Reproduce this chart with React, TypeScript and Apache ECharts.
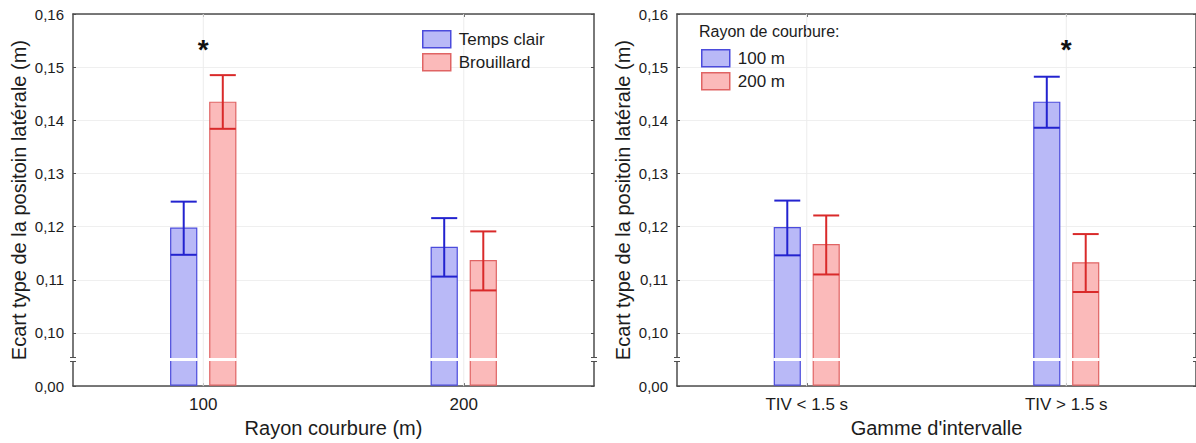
import React, { useEffect, useRef } from "react";
import * as echarts from "echarts";

// ---------- data ----------
const leftCategories = ["100", "200"];
const rightCategories = ["TIV < 1.5 s", "TIV > 1.5 s"];

// left panel: Rayon courbure
const clearMean = [0.1197, 0.1161];
const clearLow = [0.1147, 0.1106];
const clearHigh = [0.1247, 0.1216];
const fogMean = [0.1434, 0.1136];
const fogLow = [0.1384, 0.108];
const fogHigh = [0.1485, 0.1191];

// right panel: Gamme d'intervalle
const r100Mean = [0.1198, 0.1434];
const r100Low = [0.1146, 0.1386];
const r100High = [0.1249, 0.1482];
const r200Mean = [0.1166, 0.1132];
const r200Low = [0.111, 0.1077];
const r200High = [0.1221, 0.1186];

// significance marks (category index)
const leftStars = [0];
const rightStars = [1];
const STAR_VALUE = 0.1533;

// y axis ticks: the lowest tick stands for 0,00 (axis break)
const yTickValues = [0.09, 0.1, 0.11, 0.12, 0.13, 0.14, 0.15, 0.16];
const yTickLabels = ["0,00", "0,10", "0,11", "0,12", "0,13", "0,14", "0,15", "0,16"];
const BREAK_VALUE = 0.095;

// ---------- styles ----------
const FONT = "Liberation Sans, Arial, sans-serif";
const BLUE_FILL = "#b9b9f7";
const BLUE_BORDER = "#4b4bdc";
const BLUE_ERR = "#2323cf";
const RED_FILL = "#fbbaba";
const RED_BORDER = "#e06464";
const RED_ERR = "#d92a2a";
const AXIS_COLOR = "#4d4d4d";
const TEXT_COLOR = "#1c1c1c";

function rows(mean: number[], low: number[], high: number[]) {
  return mean.map((m, i) => [i, m, low[i], high[i]]);
}

function makeRenderer(
  offsetFrac: number,
  fill: string,
  border: string,
  err: string,
  first: boolean,
  stars: number[]
) {
  return (params: any, api: any) => {
    const cat = api.value(0);
    const mean = api.value(1);
    const low = api.value(2);
    const high = api.value(3);
    const cs = params.coordSys;
    const band = api.size([1, 0])[0];
    const center = api.coord([cat, mean])[0];
    const xc = center + offsetFrac * band;
    const w = band * 0.1;
    const yTop = api.coord([cat, mean])[1];
    const yBase = cs.y + cs.height;
    const yBreak = api.coord([cat, BREAK_VALUE])[1];
    const yLow = api.coord([cat, low])[1];
    const yHigh = api.coord([cat, high])[1];
    const children: any[] = [];
    if (first) {
      children.push({
        type: "line",
        shape: { x1: center, y1: cs.y, x2: center, y2: yBase },
        style: { stroke: "#ececec", lineWidth: 1 },
      });
      if (stars.indexOf(cat) >= 0) {
        const ys = api.coord([cat, STAR_VALUE])[1];
        children.push({
          type: "text",
          x: center,
          y: ys,
          style: {
            text: "*",
            font: "bold 28px " + FONT,
            fill: "#111",
            align: "center",
            verticalAlign: "middle",
          },
        });
      }
      if (params.dataIndex === 0) {
        [cs.x, cs.x + cs.width].forEach((x0: number) => {
          children.push({
            type: "rect",
            shape: { x: x0 - 3, y: yBreak - 2, width: 6, height: 4 },
            style: { fill: "#fff" },
          });
          children.push({
            type: "line",
            shape: { x1: x0 - 3, y1: yBreak - 2, x2: x0 + 3, y2: yBreak - 2 },
            style: { stroke: AXIS_COLOR, lineWidth: 1 },
          });
          children.push({
            type: "line",
            shape: { x1: x0 - 3, y1: yBreak + 2, x2: x0 + 3, y2: yBreak + 2 },
            style: { stroke: AXIS_COLOR, lineWidth: 1 },
          });
        });
      }
    }
    children.push({
      type: "rect",
      shape: { x: xc - w / 2, y: yTop, width: w, height: yBase - yTop - 1 },
      style: { fill, stroke: border, lineWidth: 1.2 },
    });
    children.push({
      type: "rect",
      shape: { x: xc - w / 2 - 1, y: yBreak - 1.5, width: w + 2, height: 3 },
      style: { fill: "#ffffff" },
    });
    children.push({
      type: "line",
      shape: { x1: xc, y1: yHigh, x2: xc, y2: yLow },
      style: { stroke: err, lineWidth: 2 },
    });
    children.push({
      type: "line",
      shape: { x1: xc - w / 2, y1: yHigh, x2: xc + w / 2, y2: yHigh },
      style: { stroke: err, lineWidth: 2 },
    });
    children.push({
      type: "line",
      shape: { x1: xc - w / 2, y1: yLow, x2: xc + w / 2, y2: yLow },
      style: { stroke: err, lineWidth: 2 },
    });
    return { type: "group", children };
  };
}

function yAxisPair(gridIndex: number) {
  const common = {
    type: "value" as const,
    gridIndex,
    min: yTickValues[0],
    max: yTickValues[yTickValues.length - 1],
    interval: 0.01,
    axisLine: { show: true, lineStyle: { color: AXIS_COLOR, width: 1.5 } },
    axisTick: { show: true, inside: true, length: 3, lineStyle: { color: AXIS_COLOR } },
  };
  return [
    {
      ...common,
      position: "left",
      name: "Ecart type de la positoin latérale (m)",
      nameLocation: "middle",
      nameGap: 44,
      nameTextStyle: { fontFamily: FONT, fontSize: 20, color: TEXT_COLOR },
      axisLabel: {
        fontFamily: FONT,
        fontSize: 15,
        color: TEXT_COLOR,
        margin: 9,
        formatter: (v: number) => {
          let best = 0;
          yTickValues.forEach((t, i) => {
            if (Math.abs(t - v) < Math.abs(yTickValues[best] - v)) best = i;
          });
          return yTickLabels[best];
        },
      },
      splitLine: { show: true, lineStyle: { color: "#efefef", width: 1 } },
    },
    {
      ...common,
      position: "right",
      axisLabel: { show: false },
      splitLine: { show: false },
    },
  ];
}

function xAxisPair(gridIndex: number, cats: string[], name: string) {
  const common = {
    type: "category" as const,
    gridIndex,
    data: cats,
    axisLine: { show: true, lineStyle: { color: AXIS_COLOR, width: 1.5 } },
    axisTick: {
      show: true,
      inside: true,
      alignWithLabel: true,
      length: 3,
      lineStyle: { color: AXIS_COLOR },
    },
    splitLine: { show: false },
  };
  return [
    {
      ...common,
      position: "bottom",
      name,
      nameLocation: "middle",
      nameGap: 31,
      nameTextStyle: { fontFamily: FONT, fontSize: 20, color: TEXT_COLOR },
      axisLabel: { fontFamily: FONT, fontSize: 17, color: TEXT_COLOR, margin: 10 },
    },
    {
      ...common,
      position: "top",
      axisLabel: { show: false },
    },
  ];
}

function legendData(names: string[]) {
  return [
    { name: names[0], itemStyle: { color: BLUE_FILL, borderColor: BLUE_BORDER, borderWidth: 1.5 } },
    { name: names[1], itemStyle: { color: RED_FILL, borderColor: RED_BORDER, borderWidth: 1.5 } },
  ];
}

export default function App() {
  const ref = useRef<HTMLDivElement>(null);
  useEffect(() => {
    document.body.style.margin = "0";
    const chart = echarts.init(ref.current!, null, { renderer: "svg" });
    const legendCommon = {
      orient: "vertical" as const,
      icon: "rect",
      itemWidth: 28,
      itemHeight: 17,
      itemGap: 4.5,
      padding: 0,
      selectedMode: false,
      textStyle: { fontFamily: FONT, fontSize: 17, color: TEXT_COLOR, padding: [0, 0, 0, 3] },
    };
    const seriesDefs = [
      { name: "Temps clair", x: 0, y: 0, d: rows(clearMean, clearLow, clearHigh), off: -0.075, f: BLUE_FILL, b: BLUE_BORDER, e: BLUE_ERR, first: true, stars: leftStars },
      { name: "Brouillard", x: 0, y: 0, d: rows(fogMean, fogLow, fogHigh), off: 0.075, f: RED_FILL, b: RED_BORDER, e: RED_ERR, first: false, stars: leftStars },
      { name: "100 m", x: 2, y: 2, d: rows(r100Mean, r100Low, r100High), off: -0.075, f: BLUE_FILL, b: BLUE_BORDER, e: BLUE_ERR, first: true, stars: rightStars },
      { name: "200 m", x: 2, y: 2, d: rows(r200Mean, r200Low, r200High), off: 0.075, f: RED_FILL, b: RED_BORDER, e: RED_ERR, first: false, stars: rightStars },
    ];
    chart.setOption({
      animation: false,
      backgroundColor: "#ffffff",
      grid: [
        { left: 73, top: 14, width: 521, height: 377 },
        { left: 677, top: 14, width: 521, height: 377 },
      ],
      xAxis: [
        ...xAxisPair(0, leftCategories, "Rayon courbure (m)"),
        ...xAxisPair(1, rightCategories, "Gamme d'intervalle"),
      ],
      yAxis: [...yAxisPair(0), ...yAxisPair(1)],
      legend: [
        { ...legendCommon, left: 422, top: 30, data: legendData(["Temps clair", "Brouillard"]) },
        { ...legendCommon, left: 701, top: 49, data: legendData(["100 m", "200 m"]) },
      ],
      graphic: [
        {
          type: "text",
          left: 699,
          top: 23,
          style: { text: "Rayon de courbure:", font: "16px " + FONT, fill: TEXT_COLOR },
        },
      ],
      series: seriesDefs.map((s) => ({
        type: "custom",
        name: s.name,
        xAxisIndex: s.x,
        yAxisIndex: s.y,
        itemStyle: { color: s.f, borderColor: s.b, borderWidth: 1.5 },
        encode: { x: 0, y: [1, 2, 3] },
        data: s.d,
        renderItem: makeRenderer(s.off, s.f, s.b, s.e, s.first, s.stars),
      })),
    });
    return () => chart.dispose();
  }, []);
  return (
    <div
      ref={ref}
      style={{ position: "absolute", left: 0, top: 0, width: 1196, height: 443 }}
    />
  );
}
